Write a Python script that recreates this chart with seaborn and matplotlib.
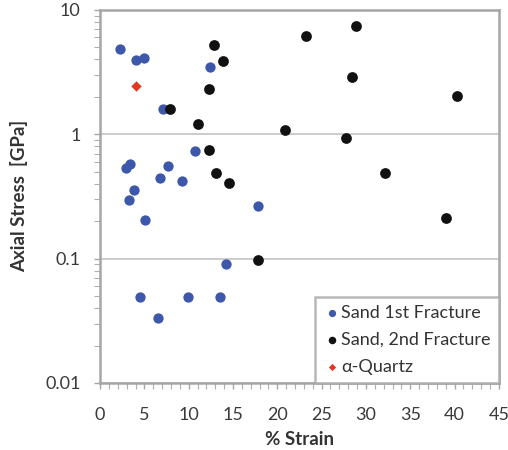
import numpy as np
import pandas as pd
import seaborn as sns
import matplotlib.pyplot as plt
from matplotlib.ticker import FixedLocator, LogLocator, NullFormatter, MultipleLocator

# Sand, 1st fracture
strain_1st = [2.2, 4.0, 5.0, 12.4, 7.1, 10.7, 3.35, 2.9, 7.7, 6.8, 9.3, 3.8, 3.3, 5.1,
              17.8, 14.2, 4.5, 6.5, 9.9, 13.5]
stress_1st = [4.86, 3.94, 4.11, 3.48, 1.59, 0.73, 0.58, 0.536, 0.551, 0.444, 0.424, 0.358,
              0.298, 0.203, 0.263, 0.091, 0.049, 0.033, 0.049, 0.049]

# Sand, 2nd fracture
strain_2nd = [12.85, 13.9, 12.25, 7.9, 11.1, 20.9, 23.2, 12.3, 13.1, 14.6, 17.8,
              28.9, 28.45, 40.3, 27.7, 32.2, 39.0]
stress_2nd = [5.24, 3.87, 2.33, 1.6, 1.2, 1.09, 6.18, 0.747, 0.491, 0.406, 0.097,
              7.48, 2.9, 2.03, 0.932, 0.488, 0.212]

# alpha-quartz
strain_qtz = [4.0]
stress_qtz = [2.45]

labels = ['Sand 1st Fracture', 'Sand, 2nd Fracture', '\u03b1-Quartz']

df = pd.concat([
    pd.DataFrame({'strain': strain_1st, 'stress': stress_1st, 'series': labels[0]}),
    pd.DataFrame({'strain': strain_2nd, 'stress': stress_2nd, 'series': labels[1]}),
    pd.DataFrame({'strain': strain_qtz, 'stress': stress_qtz, 'series': labels[2]}),
], ignore_index=True)

sns.set_style('white')
plt.rcParams['font.family'] = ['Lato', 'DejaVu Sans']

fig = plt.figure(figsize=(5.08, 4.5), dpi=100)
ax = fig.add_axes([0.197, 0.149, 0.785, 0.829])

palette = {labels[0]: '#3d57aa', labels[1]: '#111111', labels[2]: '#e5361f'}
markers = {labels[0]: 'o', labels[1]: 'o', labels[2]: 'D'}
sizes = {labels[0]: 55, labels[1]: 60, labels[2]: 28}

for lab in labels:
    sub = df[df['series'] == lab]
    sns.scatterplot(data=sub, x='strain', y='stress', color=palette[lab], marker=markers[lab],
                    s=sizes[lab], linewidth=0, ax=ax, label=lab, zorder=3)

ax.set_yscale('log')
ax.set_xlim(0, 45)
ax.set_ylim(0.01, 10)
ax.xaxis.set_major_locator(MultipleLocator(5))
ax.xaxis.set_minor_locator(MultipleLocator(1))
ax.yaxis.set_major_locator(FixedLocator([0.01, 0.1, 1, 10]))
ax.yaxis.set_minor_locator(LogLocator(base=10, subs=np.arange(2, 10)))
ax.yaxis.set_minor_formatter(NullFormatter())
ax.set_yticklabels(['0.01', '0.1', '1', '10'])

ax.grid(axis='y', which='major', color='#c8c8c8', linewidth=1.3, zorder=0)
for sp in ax.spines.values():
    sp.set_color('#a6a6a6')
    sp.set_linewidth(1.8)

ax.tick_params(axis='both', which='major', labelsize=13, colors='#a6a6a6', labelcolor='#3a3a3a',
               length=4, width=1, direction='out', left=True, bottom=True)
ax.tick_params(axis='x', which='major', pad=13)
ax.tick_params(axis='y', which='major', pad=10)
ax.tick_params(axis='both', which='minor', colors='#b0b0b0', length=4, width=0.8,
               direction='out', left=True, bottom=True)

ax.set_xlabel('% Strain', fontsize=13.5, fontweight='bold', color='#333333', labelpad=6)
ax.set_ylabel('Axial Stress  [GPa]', fontsize=13.5, fontweight='bold', color='#333333', labelpad=12)

leg = ax.legend(loc='lower right', fontsize=13, frameon=True, fancybox=False,
                borderaxespad=0.0, handletextpad=0.0, labelspacing=0.6,
                handlelength=1.0, borderpad=0.45, markerscale=0.7)
leg.get_frame().set_edgecolor('#a6a6a6')
leg.get_frame().set_linewidth(1.8)
for t in leg.get_texts():
    t.set_color('#333333')

fig.savefig('out.png', dpi=100)
